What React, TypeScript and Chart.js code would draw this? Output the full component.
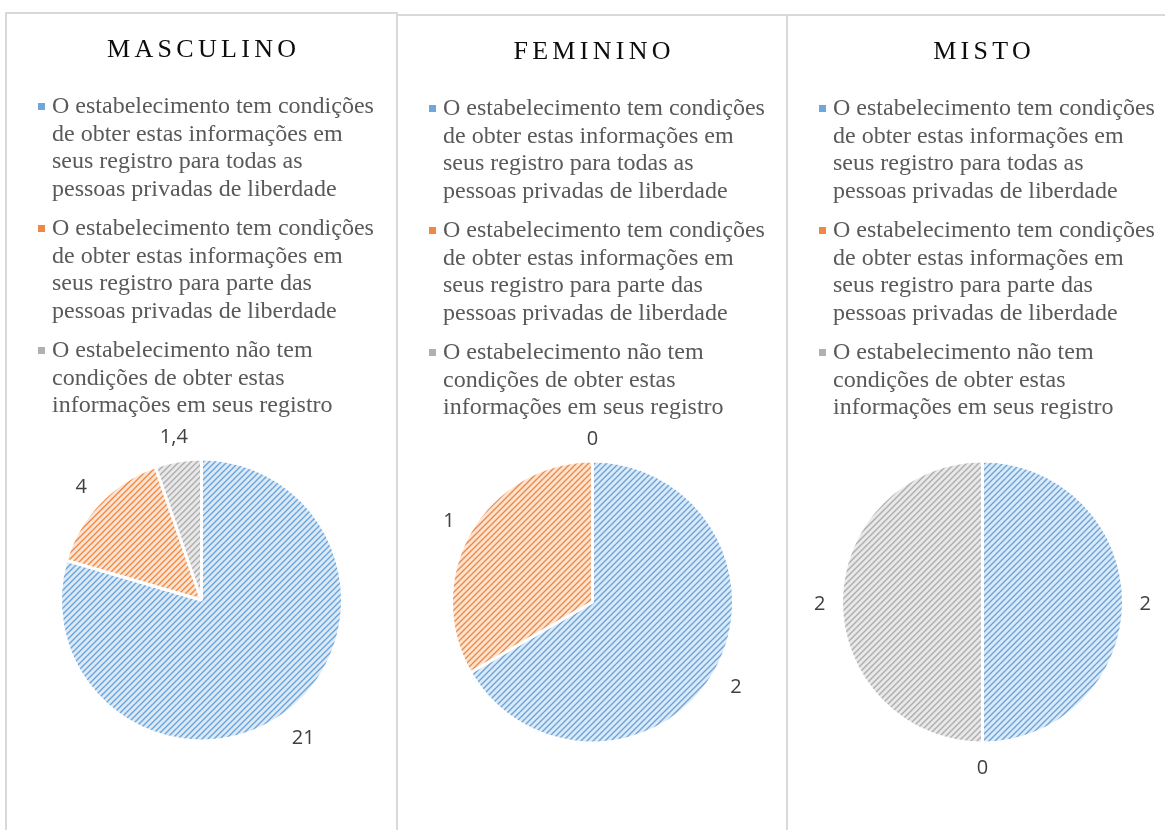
import React, { useEffect, useRef } from "react";
import { Chart, registerables } from "chart.js";

Chart.register(...registerables);

// ---- data ----
const panelTitles = ["MASCULINO", "FEMININO", "MISTO"];

const categoryLines: string[][] = [
  [
    "O estabelecimento tem condições",
    "de obter estas informações em",
    "seus registro para todas as",
    "pessoas privadas de liberdade",
  ],
  [
    "O estabelecimento tem condições",
    "de obter estas informações em",
    "seus registro para parte das",
    "pessoas privadas de liberdade",
  ],
  [
    "O estabelecimento não tem",
    "condições de obter estas",
    "informações em seus registro",
  ],
];

const masculinoValues = [21, 4, 1.4];
const femininoValues = [2, 1, 0];
const mistoValues = [2, 0, 2];

const seriesColors = ["#6AA4DA", "#EF8A45", "#ADADAD"];
const seriesLightColors = ["#DCE9F7", "#FCE3D2", "#E8E8E8"];
const markerColors = ["#6FA7DC", "#EE8844", "#B0B0B0"];

// ---- layout (page coordinates of each panel) ----
const panelLefts = [5, 396, 786];
const panelTops = [12, 14, 14];
const panelWidths = [393, 392, 392];

const PIE_CX = 196.5;
const PIE_CY = 588;
const PIE_R = 141;
const CANVAS_H = 830;

function makePattern(fg: string, bg: string): CanvasPattern | string {
  const c = document.createElement("canvas");
  const s = 6;
  c.width = s;
  c.height = s;
  const g = c.getContext("2d");
  if (!g) return fg;
  g.fillStyle = bg;
  g.fillRect(0, 0, s, s);
  g.strokeStyle = fg;
  g.lineWidth = 1.4;
  g.beginPath();
  g.moveTo(-1, s + 1);
  g.lineTo(s + 1, -1);
  g.moveTo(-1, 1);
  g.lineTo(1, -1);
  g.moveTo(s - 1, s + 1);
  g.lineTo(s + 1, s - 1);
  g.stroke();
  return g.createPattern(c, "repeat") || fg;
}

function formatValue(v: number): string {
  return String(v).replace(".", ",");
}

function Panel({ index, values }: { index: number; values: number[] }) {
  const ref = useRef<HTMLCanvasElement | null>(null);
  const width = panelWidths[index];

  useEffect(() => {
    const canvas = ref.current;
    if (!canvas) return;
    const patterns = seriesColors.map((c, i) => makePattern(c, seriesLightColors[i]));
    const size = PIE_R * 2 + 3;
    const padLeft = PIE_CX - size / 2;
    const padTop = PIE_CY - size / 2;

    const decor = {
      id: "decor",
      afterDatasetsDraw(chart: any) {
        const ctx: CanvasRenderingContext2D = chart.ctx;
        ctx.save();
        // data labels
        const meta = chart.getDatasetMeta(0);
        ctx.font = '20px "Open Sans"';
        ctx.fillStyle = "#404040";
        ctx.textAlign = "center";
        ctx.textBaseline = "middle";
        meta.data.forEach((arc: any, i: number) => {
          const p = arc.getProps(["x", "y", "startAngle", "endAngle", "outerRadius"], true);
          const mid = (p.startAngle + p.endAngle) / 2;
          const dx = Math.cos(mid);
          const dy = Math.sin(mid);
          const txt = formatValue(values[i]);
          const w = ctx.measureText(txt).width;
          const h = 15;
          const d = p.outerRadius + 16 + Math.abs(dx) * w / 2 + Math.abs(dy) * h / 2;
          ctx.fillText(txt, p.x + dx * d, p.y + dy * d + 2);
        });
        ctx.restore();
      },
      afterDraw(chart: any) {
        const ctx: CanvasRenderingContext2D = chart.ctx;
        ctx.save();
        // title
        const title = panelTitles[index];
        const spacing = 4.3;
        ctx.font = '26px "Liberation Serif"';
        (ctx as any).letterSpacing = spacing + "px";
        ctx.fillStyle = "#0d0d0d";
        ctx.textAlign = "left";
        ctx.textBaseline = "middle";
        const tw = ctx.measureText(title).width - spacing;
        ctx.fillText(title, width / 2 - tw / 2, 38);
        (ctx as any).letterSpacing = "0px";
        // legend
        ctx.font = '24px "Liberation Serif"';
        let y = 95;
        categoryLines.forEach((lines, i) => {
          ctx.fillStyle = markerColors[i];
          ctx.fillRect(33, y - 4, 7, 7);
          ctx.fillStyle = "#595959";
          lines.forEach((ln, j) => ctx.fillText(ln, 47, y + j * 27.5));
          y += lines.length * 27.5 + 12;
        });
        ctx.restore();
      },
    };

    const chart = new Chart(canvas, {
      type: "pie",
      data: {
        labels: categoryLines.map((l) => l.join(" ")),
        datasets: [
          {
            data: values,
            backgroundColor: patterns as any,
            borderColor: "#ffffff",
            borderWidth: 3,
          },
        ],
      },
      options: {
        responsive: false,
        animation: false,
        layout: {
          padding: {
            left: padLeft,
            right: width - padLeft - size,
            top: padTop,
            bottom: CANVAS_H - padTop - size,
          },
        },
        plugins: {
          legend: { display: false },
          title: { display: false },
          tooltip: { enabled: false },
        },
      },
      plugins: [decor],
    });
    return () => chart.destroy();
  }, [index, values, width]);

  return (
    <>
      <canvas
        ref={ref}
        width={width}
        height={CANVAS_H}
        style={{
          position: "absolute",
          left: panelLefts[index],
          top: panelTops[index],
          width,
          height: CANVAS_H,
        }}
      />
      <div
        style={{
          position: "absolute",
          left: panelLefts[index],
          top: panelTops[index],
          width,
          height: CANVAS_H + 40,
          border: "2px solid #d9d9d9",
          boxSizing: "border-box",
          pointerEvents: "none",
        }}
      />
    </>
  );
}

export default function App() {
  const allValues = [masculinoValues, femininoValues, mistoValues];
  return (
    <div
      style={{
        position: "fixed",
        left: 0,
        top: 0,
        width: 1165,
        height: 830,
        overflow: "hidden",
        background: "#ffffff",
      }}
    >
      {allValues.map((v, i) => (
        <Panel key={i} index={i} values={v} />
      ))}
    </div>
  );
}
